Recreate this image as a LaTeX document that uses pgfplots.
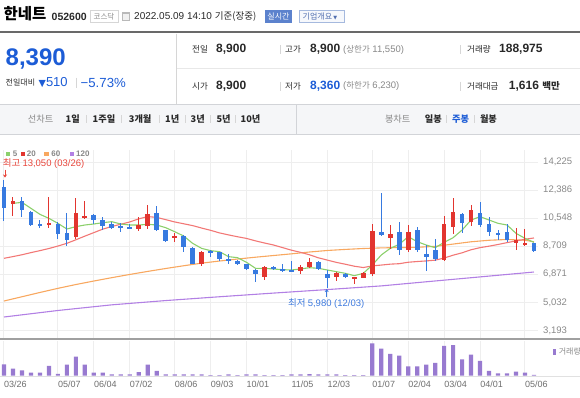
\documentclass[border=0pt]{standalone}
\usepackage{fontspec}
\setmainfont{Liberation Sans}
\newfontfamily\kr{Noto Sans CJK KR}
\newfontfamily\djv{DejaVu Sans}
\usepackage{pgfplots}
\pgfplotsset{compat=1.18}
\usepackage{pgfplotstable}
\usetikzlibrary{arrows.meta}

\definecolor{upred}{RGB}{226,53,47}
\definecolor{dnblue}{RGB}{55,122,224}
\definecolor{mafive}{RGB}{140,208,108}
\definecolor{matwenty}{RGB}{242,120,118}
\definecolor{masixty}{RGB}{248,168,96}
\definecolor{maonetwenty}{RGB}{178,128,228}
\definecolor{volc}{RGB}{152,122,208}
\definecolor{gridc}{RGB}{238,238,238}
\definecolor{lblgray}{RGB}{136,136,136}
\definecolor{dark}{RGB}{40,40,40}
\definecolor{pblue}{RGB}{28,92,214}
\definecolor{sepgray}{RGB}{214,214,214}
\definecolor{hired}{RGB}{232,70,60}
\definecolor{loblue}{RGB}{62,122,222}
\definecolor{rtblue}{RGB}{92,130,205}
\definecolor{boxblue}{RGB}{165,185,222}
\definecolor{boxtext}{RGB}{80,110,175}
\definecolor{boxfill}{RGB}{246,248,252}
\definecolor{tabbg}{RGB}{245,246,248}
\definecolor{tabline}{RGB}{210,212,216}
\definecolor{topline}{RGB}{105,105,105}
\definecolor{rowline}{RGB}{232,232,232}
\definecolor{panelsep}{RGB}{160,160,160}
\definecolor{baseln}{RGB}{225,225,225}
\definecolor{datelbl}{RGB}{110,110,110}

\newcommand{\fs}[1]{\fontsize{#1bp}{#1bp}\selectfont}

\pgfplotstableread{
i o h l c
1 11474 11954 10710 11670
5 10120 11911 9924 10230
8 9291 11889 9182 10906
9 10600 11670 10491 10710
15 9837 10644 9727 10099
16 10033 11408 9837 10797
19 9225 9553 8963 9378
22 7523 8396 7414 8352
29 6715 7414 6497 7370
33 7086 7479 6868 7326
34 7348 7916 7261 7698
37 6672 7042 6431 6933
39 6600 6715 6256 6700
40 6650 7042 6606 6933
41 6889 10142 6780 9705
43 9225 10099 8527 9487
45 8461 10099 8352 9618
49 7807 10688 7741 10142
50 9946 11845 9487 10972
52 10317 11408 10055 11081
57 8898 9924 8461 9116
58 8800 9815 8745 8900
}\upc

\pgfplotstableread{
i o h l c
0 12610 13050 10360 11190
2 11670 11911 10601 11081
3 10972 11016 10055 10099
4 10164 10426 9880 10033
6 10142 10317 9160 9509
7 9597 10906 8745 9117
10 10754 10797 10142 10404
11 10448 10622 9771 10055
12 10164 10317 9837 9924
13 10011 10208 9662 9880
14 9968 10142 9837 9860
17 10863 11365 9727 9771
18 9749 9793 9007 9050
20 9378 9444 8309 8680
21 8614 8658 7523 7545
23 8418 8461 8025 8287
24 8309 8352 7741 7850
25 7872 8221 7545 7741
26 7741 7785 7479 7523
27 7523 7567 7130 7218
28 7174 7217 6388 6868
30 7348 7414 7152 7217
31 7217 7523 7042 7108
32 7152 7741 6998 7030
35 7698 7741 7152 7239
36 6911 7152 5980 6628
38 6889 6933 6606 6693
42 9662 12173 9400 9444
44 9662 10317 8134 8461
46 9771 9990 8352 8461
47 8178 8789 7086 8003
48 8461 9182 7741 7872
51 10841 10884 9553 10208
53 10906 11583 9990 10099
54 10186 10644 9400 9618
55 9575 9771 9116 9444
56 9662 10142 8963 9094
59 8900 8900 8360 8390
}\dnc

\pgfplotstableread{
i v
1 11517
2 11583
3 11189
4 10797
5 10535
6 10208
7 9837
8 9990
9 10099
10 10164
11 10251
12 10317
13 10164
14 10099
15 10099
16 10142
17 10099
18 9924
19 9662
20 9378
21 8898
22 8570
23 8418
24 8352
25 8025
26 7960
27 7654
28 7262
29 7262
30 7217
31 7174
32 7152
33 7217
34 7304
35 7262
36 7152
37 7042
38 6933
39 6780
40 6933
41 7479
42 8134
43 8570
44 8832
45 9334
46 9007
47 8789
48 8614
49 8963
50 9269
51 9771
52 10426
53 10644
54 10426
55 10208
56 10099
57 9553
58 9225
59 8963
}\mafivet

\pgfplotstableread{
i v
0 7918
1 8030
2 8150
3 8290
4 8420
5 8560
6 8720
7 8900
8 9130
9 9370
10 9600
11 9830
12 10000
13 10150
14 10300
15 10500
16 10650
17 10600
18 10450
19 10300
20 10180
21 10060
22 9900
23 9750
24 9580
25 9450
26 9330
27 9220
28 9060
29 8920
30 8790
31 8620
32 8450
33 8310
34 8150
35 7950
36 7800
37 7650
38 7530
39 7400
40 7313
41 7420
42 7475
43 7535
44 7565
45 7660
46 7707
47 7746
48 7796
49 7935
50 8123
51 8278
52 8478
53 8617
54 8713
55 8823
56 8946
57 9055
58 9165
59 9251
}\matwentyt

\pgfplotstableread{
i v
0 5121
2 5400
4 5680
6 5950
8 6200
10 6430
12 6650
14 6860
16 7060
18 7250
20 7430
22 7600
24 7740
26 7870
28 7990
30 8100
32 8210
34 8330
36 8430
38 8500
40 8560
42 8600
44 8620
46 8640
48 8700
50 8850
52 9000
54 9100
56 9150
58 9100
59 9000
}\masixtyt

\pgfplotstableread{
i v
0 4073
6 4500
12 4870
18 5150
24 5400
30 5640
36 5870
42 6110
47 6380
53 6700
59 7020
}\maonetwentyt

\pgfplotstableread{
i v
0 3200
1 2000
2 1500
3 800
4 800
5 2800
6 500
7 3100
8 5400
9 3100
10 800
11 800
12 300
13 300
14 300
15 1000
16 3100
17 1300
18 300
19 300
20 300
21 300
22 300
23 100
24 100
25 300
26 100
27 300
28 300
29 100
30 100
31 100
32 300
33 300
34 400
35 300
36 300
37 300
38 100
39 100
40 100
41 9200
42 7700
43 6200
44 5700
45 2600
46 2600
47 3100
48 3600
49 8500
50 8700
51 4600
52 6000
53 4200
54 1300
55 600
56 600
57 1100
58 800
59 200
}\volt

\pgfplotsset{candle/.style={only marks, mark=*, mark size=0pt,
  mark options={draw opacity=0, fill opacity=0},
  error bars/.cd, y dir=both, y explicit, error mark=none}}

\begin{document}
\begin{tikzpicture}[x=1bp,y=1bp]
\useasboundingbox (0,0) rectangle (580,-397);

% ---------- header ----------
\node[anchor=west,inner sep=0,text=black] at (3.5,-14) {\kr\bfseries\fs{15.5}한네트};
\node[anchor=west,inner sep=0,text=dark] at (51.5,-16.5) {\bfseries\fs{10.5}052600};
\draw[sepgray,fill=white,line width=0.7bp] (90,-10.5) rectangle (118,-22);
\node[inner sep=0,text=lblgray] at (104,-16.3) {\kr\fs{7.5}코스닥};
\draw[gray!55,fill=gray!12,line width=0.6bp] (122.5,-12) rectangle (129.5,-20.5);
\fill[gray!55] (122.5,-12) rectangle (129.5,-14);
\node[anchor=west,inner sep=0,text=dark] at (134,-16.3) {\fs{10}2022.05.09 14:10 {\kr\fs{9.5}기준(장중)}};
\fill[rtblue] (265,-10) rectangle (292,-22.5);
\node[inner sep=0,text=white] at (278.5,-16.3) {\kr\fs{8}실시간};
\draw[boxblue,fill=boxfill,line width=0.7bp] (299,-10) rectangle (344,-22.5);
\node[anchor=west,inner sep=0,text=boxtext] at (302.5,-16.3) {\kr\fs{8}기업개요\,{\djv\fs{5}▼}};
\draw[topline,line width=2.6bp] (0,-32) -- (580,-32);

% ---------- price panel ----------
\draw[sepgray,line width=0.8bp] (176.5,-33.5) -- (176.5,-104.4);
\node[anchor=west,inner sep=0,text=pblue] at (5.5,-59.3) {\bfseries\fs{24}8,390};
\node[anchor=west,inner sep=0,text=dark] at (5.5,-82.5) {\kr\fs{8}전일대비};
\node[anchor=west,inner sep=0,text=pblue] at (38.5,-82.5) {{\djv\fs{9.5}▼}\fs{13}510};
\draw[sepgray,line width=0.8bp] (76,-77.5) -- (76,-87.5);
\node[anchor=west,inner sep=0,text=pblue] at (80.5,-82.5) {\fs{13.2}−5.73\%};

\draw[rowline,line width=0.8bp] (176.5,-68.5) -- (580,-68.5);
% row 1
\node[anchor=west,inner sep=0,text=dark] at (192,-49.5) {\kr\fs{8.5}전일};
\node[anchor=west,inner sep=0,text=dark] at (216,-49.5) {\bfseries\fs{12}8,900};
\draw[sepgray,line width=0.8bp] (280,-45) -- (280,-54);
\node[anchor=west,inner sep=0,text=dark] at (285,-49.5) {\kr\fs{8.5}고가};
\node[anchor=west,inner sep=0,text=dark] at (310,-49.5) {\bfseries\fs{12}8,900};
\node[anchor=west,inner sep=0,text=lblgray] at (343,-49.5) {\fs{9.5}({\kr\fs{8.5}상한가} 11,550)};
\draw[sepgray,line width=0.8bp] (460.5,-45) -- (460.5,-54);
\node[anchor=west,inner sep=0,text=dark] at (467,-49.5) {\kr\fs{8.5}거래량};
\node[anchor=west,inner sep=0,text=dark] at (499,-49.5) {\bfseries\fs{12}188,975};
% row 2
\node[anchor=west,inner sep=0,text=dark] at (192,-86) {\kr\fs{8.5}시가};
\node[anchor=west,inner sep=0,text=dark] at (216,-86) {\bfseries\fs{12}8,900};
\draw[sepgray,line width=0.8bp] (280,-81.5) -- (280,-90.5);
\node[anchor=west,inner sep=0,text=dark] at (285,-86) {\kr\fs{8.5}저가};
\node[anchor=west,inner sep=0,text=pblue] at (310,-86) {\bfseries\fs{12}8,360};
\node[anchor=west,inner sep=0,text=lblgray] at (343,-86) {\fs{9.5}({\kr\fs{8.5}하한가} 6,230)};
\draw[sepgray,line width=0.8bp] (460.5,-81.5) -- (460.5,-90.5);
\node[anchor=west,inner sep=0,text=dark] at (467,-86) {\kr\fs{8.5}거래대금};
\node[anchor=west,inner sep=0,text=dark] at (508.7,-86) {\bfseries\fs{12}1,616 {\kr\bfseries\fs{9.5}백만}};

% ---------- tab bar ----------
\fill[tabbg] (0,-104.4) rectangle (580,-134);
\draw[tabline,line width=0.8bp] (0,-104.4) -- (580,-104.4);
\draw[tabline,line width=0.8bp] (0,-134) -- (580,-134);
\draw[tabline,line width=0.8bp] (296.7,-104.4) -- (296.7,-134);
\node[anchor=west,inner sep=0,text=lblgray] at (27.7,-119) {\kr\fs{9.2}선차트};
\node[anchor=west,inner sep=0,text=dark] at (65.5,-119) {\kr\bfseries\fs{9.2}1일};
\node[anchor=west,inner sep=0,text=dark] at (92.5,-119) {\kr\bfseries\fs{9.2}1주일};
\node[anchor=west,inner sep=0,text=dark] at (128.7,-119) {\kr\bfseries\fs{9.2}3개월};
\node[anchor=west,inner sep=0,text=dark] at (165,-119) {\kr\bfseries\fs{9.2}1년};
\node[anchor=west,inner sep=0,text=dark] at (190.5,-119) {\kr\bfseries\fs{9.2}3년};
\node[anchor=west,inner sep=0,text=dark] at (216.4,-119) {\kr\bfseries\fs{9.2}5년};
\node[anchor=west,inner sep=0,text=dark] at (240.5,-119) {\kr\bfseries\fs{9.2}10년};
\foreach \sx in {86,121,159,185,210,235.7,446.5,474}
  \draw[sepgray,line width=0.8bp] (\sx,-115) -- (\sx,-123);
\node[anchor=west,inner sep=0,text=lblgray] at (384.8,-119) {\kr\fs{9.2}봉차트};
\node[anchor=west,inner sep=0,text=dark] at (424.7,-119) {\kr\bfseries\fs{9.2}일봉};
\node[anchor=west,inner sep=0,text=pblue] at (452,-119) {\kr\bfseries\fs{9.2}주봉};
\node[anchor=west,inner sep=0,text=dark] at (479.8,-119) {\kr\bfseries\fs{9.2}월봉};

% ---------- price chart ----------
\begin{axis}[
  at={(0bp,-150bp)}, anchor=north west,
  width=538bp, height=188bp, scale only axis,
  xmin=-0.445, xmax=59.45, ymin=2697, ymax=15011,
  axis line style={draw=none}, major tick length=0pt,
  scaled y ticks=false, scaled x ticks=false,
  xtick={0,6,10,14,19,23,27,32,36,41,45,49,53,58},
  xticklabel style={text opacity=0},
  ytick={3193,5032,6871,8709,10548,12386,14225},
  yticklabels={{3,193},{5,032},{6,871},{8,709},{10,548},{12,386},{14,225}},
  yticklabel pos=right,
  yticklabel style={anchor=west, inner sep=0pt, xshift=5bp, font=\fs{9.5}, text=lblgray},
  grid=major, major grid style={gridc, line width=1bp},
]
\addplot[maonetwenty, line width=1.1bp, mark=none] table[x=i,y=v]{\maonetwentyt};
\addplot[masixty, line width=1.1bp, mark=none] table[x=i,y=v]{\masixtyt};
\addplot[matwenty, line width=1.1bp, mark=none] table[x=i,y=v]{\matwentyt};
\addplot[mafive, line width=1.1bp, mark=none] table[x=i,y=v]{\mafivet};
% wicks
\addplot[candle, error bar style={line width=1bp, color=upred}]
  table[x=i, y expr={(\thisrow{h}+\thisrow{l})/2}, y error expr={(\thisrow{h}-\thisrow{l})/2}]{\upc};
\addplot[candle, error bar style={line width=1bp, color=dnblue}]
  table[x=i, y expr={(\thisrow{h}+\thisrow{l})/2}, y error expr={(\thisrow{h}-\thisrow{l})/2}]{\dnc};
% bodies
\addplot[candle, error bar style={line width=4.7bp, color=upred}]
  table[x=i, y expr={(\thisrow{o}+\thisrow{c})/2}, y error expr={abs(\thisrow{c}-\thisrow{o})/2}]{\upc};
\addplot[candle, error bar style={line width=4.7bp, color=dnblue}]
  table[x=i, y expr={(\thisrow{o}+\thisrow{c})/2}, y error expr={abs(\thisrow{c}-\thisrow{o})/2}]{\dnc};
\end{axis}

% legend of moving averages
\fill[mafive] (5.7,-151.8) rectangle (10,-156.1);
\node[anchor=west,inner sep=0,text=lblgray] at (12.8,-154) {\bfseries\fs{8}5};
\fill[upred] (20.7,-151.8) rectangle (25,-156.1);
\node[anchor=west,inner sep=0,text=lblgray] at (26.7,-154) {\bfseries\fs{8}20};
\fill[masixty] (44.3,-151.8) rectangle (48.6,-156.1);
\node[anchor=west,inner sep=0,text=lblgray] at (51.2,-154) {\bfseries\fs{8}60};
\fill[maonetwenty] (70,-151.8) rectangle (74.3,-156.1);
\node[anchor=west,inner sep=0,text=lblgray] at (76,-154) {\bfseries\fs{8}120};

% high / low annotations
\node[anchor=west,inner sep=0,text=hired] at (2.7,-164) {\kr\fs{9.5}최고 {\fontspec{Liberation Sans}\fs{9.5}13,050 (03/26)}};
\draw[hired,line width=0.9bp,-{Stealth[length=3bp,width=4bp]}] (5,-169.5) -- (5,-177.5);
\node[anchor=west,inner sep=0,text=loblue] at (288,-304) {\kr\fs{9.5}최저 {\fontspec{Liberation Sans}\fs{9.5}5,980 (12/03)}};
\draw[loblue,line width=0.9bp,-{Stealth[length=3bp,width=4bp]}] (326.7,-297) -- (326.7,-289);

% separator
\draw[panelsep,line width=2.4bp] (0,-339) -- (580,-339);

% ---------- volume ----------
\begin{axis}[
  at={(0bp,-341bp)}, anchor=north west,
  width=538bp, height=34.5bp, scale only axis,
  xmin=-0.445, xmax=59.45, ymin=0, ymax=9900,
  axis line style={draw=none}, major tick length=0pt,
  scaled y ticks=false, scaled x ticks=false,
  xtick={0,6,10,14,19,23,27,32,36,41,45,49,53,58},
  xticklabels={03/26,05/07,06/04,07/02,08/06,09/03,10/01,11/05,12/03,01/07,02/04,03/04,04/01,05/06},
  xticklabel style={anchor=north west, inner sep=0pt, yshift=-5.7bp, font=\fs{9}, text=datelbl},
  ytick=\empty,
  xmajorgrids, major grid style={gridc, line width=1bp},
]
\addplot[ybar, bar width=4.2bp, bar shift=0pt, fill=volc, draw=none] table[x=i,y=v]{\volt};
\end{axis}
\draw[baseln,line width=0.8bp] (0,-375.9) -- (580,-375.9);
\fill[volc] (553,-348.5) rectangle (555.7,-354.8);
\node[anchor=west,inner sep=0,text=lblgray] at (558.6,-351.6) {\kr\fs{8}거래량};
\end{tikzpicture}
\end{document}
